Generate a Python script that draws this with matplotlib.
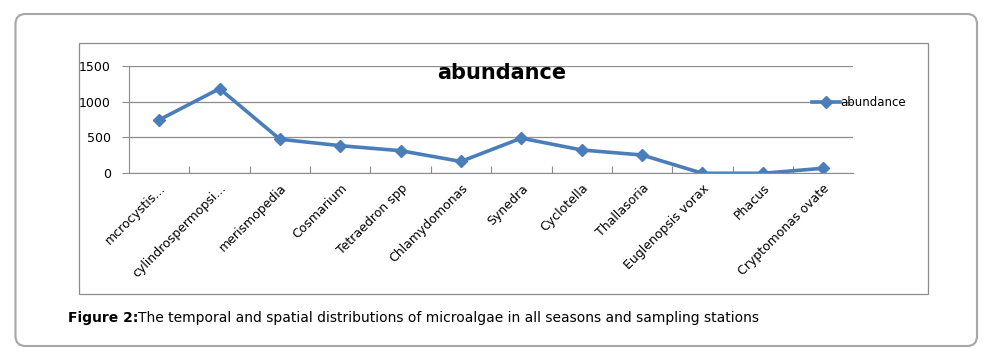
import matplotlib.pyplot as plt
from matplotlib.patches import FancyBboxPatch, Rectangle

# valeurs
species = ['mcrocystis...', 'cylindrospermopsi...', 'merismopedia', 'Cosmarium',
           'Tetraedron spp', 'Chlamydomonas', 'Synedra', 'Cyclotella',
           'Thallasoria', 'Euglenopsis vorax', 'Phacus', 'Cryptomonas ovate']
abundance = [745, 1180, 475, 385, 315, 165, 490, 325, 255, 0, 0, 70]
yticks = [0, 500, 1000, 1500]

W, H = 998, 355
fig = plt.figure(figsize=(W / 100, H / 100), dpi=100)

# fond en pixels pour les cadres
bg = fig.add_axes([0, 0, 1, 1])
bg.set_xlim(0, W)
bg.set_ylim(H, 0)
bg.axis('off')
bg.add_patch(FancyBboxPatch((15.5, 14), 977 - 15.5, 346 - 14,
                            boxstyle="round,pad=0,rounding_size=10",
                            fill=False, edgecolor='#a6a6a6', linewidth=1.5))
bg.add_patch(Rectangle((79, 43), 928 - 79, 294 - 43, fill=False,
                       edgecolor='#8c8c8c', linewidth=0.9))

ax = fig.add_axes([129 / W, 1 - 173.3 / H, (853.3 - 129) / W, (173.3 - 65.7) / H])
x = list(range(len(species)))
ax.plot(x, abundance, color='#4a7ebb', linewidth=2.6, marker='D', markersize=6,
        label='abundance')
ax.set_xlim(-0.5, len(species) - 0.5)
ax.set_ylim(0, 1500)
ax.set_yticks(yticks)
ax.set_yticklabels([str(v) for v in yticks], fontsize=9)
ax.yaxis.grid(True, color='#8c8c8c', linewidth=0.9)
ax.set_axisbelow(True)
for s in ['top', 'right']:
    ax.spines[s].set_visible(False)
ax.spines['left'].set_color('#8c8c8c')
ax.spines['bottom'].set_color('#8c8c8c')
ax.tick_params(axis='y', length=5, color='#8c8c8c', pad=8)
ax.set_xticks([i + 0.5 for i in x[:-1]])
ax.set_xticklabels([])
ax.set_xticks(x, minor=True)
ax.set_xticklabels(species, minor=True, rotation=45, ha='right', va='top',
                   rotation_mode='anchor', fontsize=9)
ax.tick_params(axis='x', which='minor', length=0, pad=6)
ax.tick_params(axis='x', which='major', direction='in', length=5, color='#8c8c8c')

fig.text(502 / W, 1 - 73 / H, 'abundance', ha='center', va='center',
         fontsize=15, fontweight='bold')
ax.legend(loc='center left', bbox_to_anchor=(806 / W, 1 - 103 / H),
          bbox_transform=fig.transFigure, frameon=False, fontsize=8.5,
          handlelength=2.4, handletextpad=0.0, borderpad=0)

# legende de la figure : partie grasse puis texte normal
t1 = fig.text(68 / W, 1 - 318 / H, 'Figure 2:', ha='left', va='center',
              fontsize=10, fontweight='bold')
fig.canvas.draw()
bb = t1.get_window_extent()
fig.text(bb.x1 / W, 1 - 318 / H,
         'The temporal and spatial distributions of microalgae in all seasons and sampling stations',
         ha='left', va='center', fontsize=10)

fig.savefig('out.png', dpi=100)
